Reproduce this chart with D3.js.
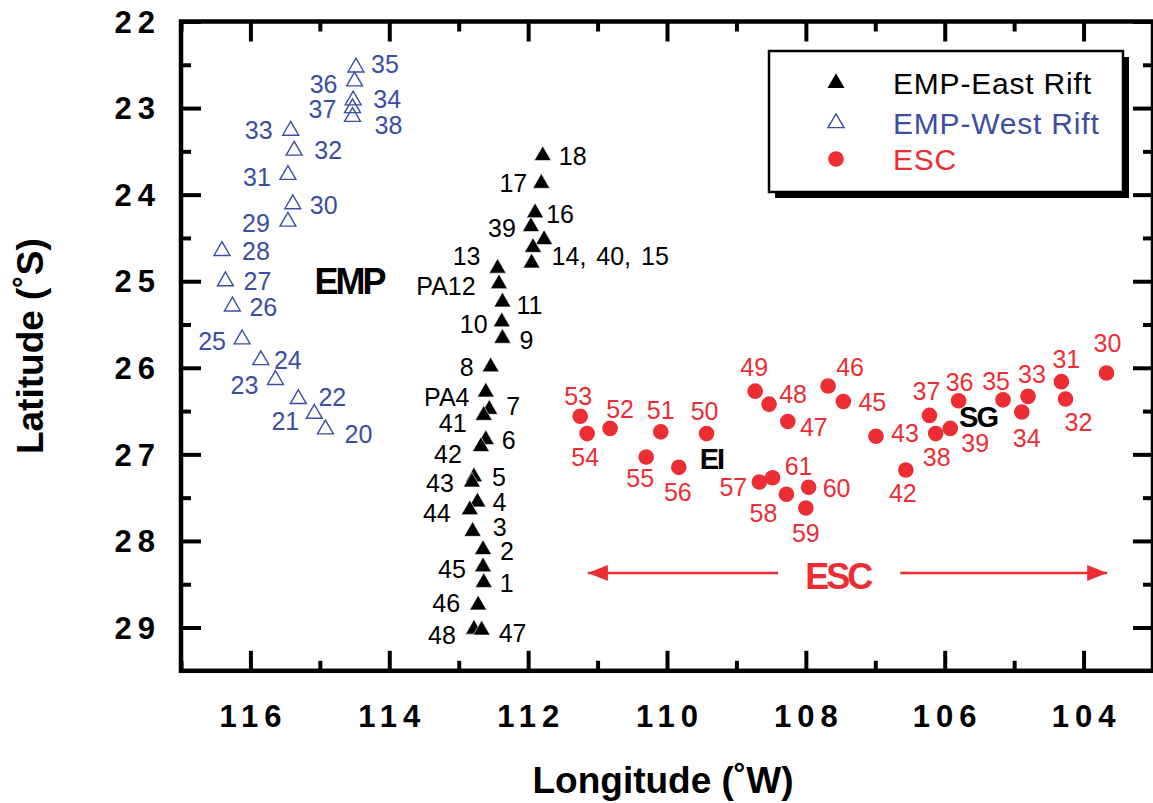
<!DOCTYPE html>
<html><head><meta charset="utf-8">
<script src="https://cdn.jsdelivr.net/npm/d3@7"></script>
<style>body{margin:0;background:#fff}svg{display:block}</style>
</head><body>
<svg id="c" width="1153" height="803"></svg>
<script>
// ---------- DATA ----------
const eastIds = ["18","17","16","39","15","40","14","13","PA12","11","10","9","8","PA4","7","41","6","42","5","43","4","44","3","2","45","1","46","48","47"];
const eastLabels = ["18","17","16","39","","","14, 40, 15","13","PA12","11","10","9","8","PA4","7","41","6","42","5","43","4","44","3","2","45","1","46","48","47"];
const eastLon = [111.79,111.81,111.90,111.96,111.77,111.93,111.95,112.44,112.42,112.37,112.38,112.37,112.54,112.61,112.56,112.64,112.61,112.68,112.78,112.81,112.73,112.84,112.80,112.65,112.65,112.64,112.72,112.78,112.67];
const eastLat = [23.55,23.87,24.21,24.37,24.52,24.61,24.79,24.85,25.03,25.24,25.47,25.66,25.99,26.28,26.48,26.55,26.83,26.91,27.26,27.32,27.55,27.64,27.89,28.10,28.30,28.48,28.74,29.02,29.03];

const westIds = ["35","36","34","37","38","33","32","31","30","29","28","27","26","25","24","23","22","21","20"];
const westLon = [114.48,114.50,114.52,114.53,114.53,115.42,115.37,115.46,115.39,115.46,116.41,116.36,116.26,116.12,115.85,115.64,115.31,115.08,114.92];
const westLat = [22.53,22.69,22.91,23.00,23.10,23.26,23.49,23.77,24.11,24.31,24.65,25.00,25.29,25.67,25.91,26.14,26.36,26.53,26.71];

const escIds = ["53","54","52","51","50","55","56","49","48","47","46","45","57","61","58","60","59","43","42","37","38","39","36","35","33","34","31","32","30"];
const escLon = [111.25,111.15,110.82,110.09,109.43,110.30,109.83,108.73,108.53,108.26,107.68,107.46,108.67,108.48,108.28,107.96,108.00,106.99,106.56,106.22,106.13,105.92,105.80,105.16,104.80,104.89,104.32,104.26,103.67];
const escLat = [26.56,26.76,26.70,26.74,26.76,27.03,27.15,26.27,26.42,26.62,26.21,26.39,27.32,27.27,27.46,27.38,27.62,26.79,27.18,26.55,26.76,26.70,26.38,26.37,26.33,26.51,26.16,26.36,26.06];

const xMajorTicks = [116,114,112,110,108,106,104];
const xMinorTicks = [117,115,113,111,109,107,105,103];
const yMajorTicks = [22,23,24,25,26,27,28,29];
const yMinorTicks = [22.5,23.5,24.5,25.5,26.5,27.5,28.5];

const placeNames = ["EMP","EI","SG"];
const placeLon = [114.58,109.36,105.52];
const placeLat = [25.00,27.05,26.56];

const escArrowLon = [111.14,108.40,106.64,103.66]; // left tip, left tail, right tail, right tip
const escArrowLat = 28.37;
const escTextLon = 107.54, escTextLat = 28.41;

const seriesNames = ["EMP-East Rift","EMP-West Rift","ESC"];

// ---------- LAYOUT (label offsets in px) ----------
const eastOff = [[30,0],[-28,0],[25,1],[-29,1],[0,0],[0,0],[20,-7],[-31,-12],[-53,2],[27,3],[-28,2],[24,2],[-24,0],[-39,5],[24,-3],[-31,8],[23,0],[-33,7],[25,0],[-32,1],[22,0],[-33,3],[27,-4],[24,1],[-31,2],[23,1],[-32,-2],[-32,6],[31,3]];
const westOff = [[29,-3],[-31,3],[34,-1],[-30,1],[36,8],[-32,-1],[34,0],[-31,2],[31,1],[-32,2],[34,0],[32,0],[31,1],[-30,2],[27,0],[-31,5],[34,-2],[-29,7],[33,5]];
const escOff = [[-2,-20],[-2,23],[10,-19],[0,-22],[-2,-23],[-6,21],[-1,25],[-1,-24],[24,-10],[26,6],[22,-19],[29,0],[-26,5],[26,-12],[-23,19],[28,1],[0,25],[29,-3],[-3,23],[-3,-24],[1,23],[25,15],[1,-19],[-7,-19],[4,-22],[5,26],[5,-23],[13,23],[1,-30]];

const BLUE = "#3b4ea2", RED = "#ec2d33", BLACK = "#000";
const FONT = "'Liberation Sans', Arial, Helvetica, sans-serif";

const svg = d3.select("#c");
const x = d3.scaleLinear().domain([117,103]).range([181,1153]);
const y = d3.scaleLinear().domain([22,29.5]).range([21.5,670.8]);

// ---------- AXES ----------
const axG = svg.append("g");
function styleAxis(g, w){ g.select(".domain").remove(); g.selectAll("line").attr("stroke","#000").attr("stroke-width",w); g.selectAll("text").remove(); }
axG.append("g").attr("transform",`translate(0,${y(29.5)})`).call(d3.axisBottom(x).tickValues(xMajorTicks).tickSize(-20)).call(g=>styleAxis(g,4));
axG.append("g").attr("transform",`translate(0,${y(29.5)})`).call(d3.axisBottom(x).tickValues(xMinorTicks).tickSize(-10)).call(g=>styleAxis(g,4));
axG.append("g").attr("transform",`translate(0,${y(22)})`).call(d3.axisTop(x).tickValues(xMajorTicks).tickSize(-20)).call(g=>styleAxis(g,4));
axG.append("g").attr("transform",`translate(0,${y(22)})`).call(d3.axisTop(x).tickValues(xMinorTicks).tickSize(-10)).call(g=>styleAxis(g,4));
axG.append("g").attr("transform",`translate(${x(117)},0)`).call(d3.axisLeft(y).tickValues(yMajorTicks).tickSize(-20)).call(g=>styleAxis(g,4));
axG.append("g").attr("transform",`translate(${x(117)},0)`).call(d3.axisLeft(y).tickValues(yMinorTicks).tickSize(-10)).call(g=>styleAxis(g,4));
axG.append("g").attr("transform",`translate(${x(103)},0)`).call(d3.axisRight(y).tickValues(yMajorTicks).tickSize(-20)).call(g=>styleAxis(g,4));
axG.append("g").attr("transform",`translate(${x(103)},0)`).call(d3.axisRight(y).tickValues(yMinorTicks).tickSize(-10)).call(g=>styleAxis(g,4));

svg.append("rect").attr("x",x(117)).attr("y",y(22)).attr("width",x(103)-x(117)).attr("height",y(29.5)-y(22))
  .attr("fill","none").attr("stroke","#000").attr("stroke-width",4.5);

// tick labels
svg.append("g").selectAll("text").data(xMajorTicks).join("text")
  .attr("x",d=>x(d)+3).attr("y",727).attr("text-anchor","middle")
  .style("font-family",FONT).style("font-weight","bold").style("font-size","31px").style("letter-spacing","6px")
  .text(d=>d);
svg.append("g").selectAll("text").data(yMajorTicks).join("text")
  .attr("x",161).attr("y",d=>y(d)).attr("dy","0.36em").attr("text-anchor","end")
  .style("font-family",FONT).style("font-weight","bold").style("font-size","31px").style("letter-spacing","6px")
  .text(d=>d);

// axis titles
svg.append("text").attr("x",663).attr("y",793).attr("text-anchor","middle")
  .style("font-family",FONT).style("font-weight","bold").style("font-size","37px").text("Longitude (˚W)");
svg.append("text").attr("transform",`translate(43,${(y(22)+y(29.5))/2}) rotate(-90)`).attr("text-anchor","middle")
  .style("font-family",FONT).style("font-weight","bold").style("font-size","37px").text("Latitude (˚S)");

// ---------- MARKS ----------
const triFill = d3.symbol().type(d3.symbolTriangle).size(125);
const triOpen = d3.symbol().type(d3.symbolTriangle).size(110);
const labelStyle = s => s.style("font-family",FONT).style("font-size","25px");

const westG = svg.append("g");
westG.selectAll("path").data(westIds).join("path")
  .attr("d",triOpen).attr("transform",(d,i)=>`translate(${x(westLon[i])},${y(westLat[i])})`)
  .attr("fill","none").attr("stroke",BLUE).attr("stroke-width",1.4);
westG.selectAll("text").data(westIds).join("text")
  .attr("x",(d,i)=>x(westLon[i])+westOff[i][0]).attr("y",(d,i)=>y(westLat[i])+westOff[i][1])
  .attr("dy","0.36em").attr("text-anchor","middle").attr("fill",BLUE).call(labelStyle).text(d=>d);

const eastG = svg.append("g");
eastG.selectAll("path").data(eastIds).join("path")
  .attr("d",triFill).attr("transform",(d,i)=>`translate(${x(eastLon[i])},${y(eastLat[i])})`)
  .attr("fill",BLACK).attr("stroke","#fff").attr("stroke-width",0.6);
eastG.selectAll("text").data(eastLabels).join("text")
  .attr("x",(d,i)=>x(eastLon[i])+eastOff[i][0]).attr("y",(d,i)=>y(eastLat[i])+eastOff[i][1])
  .attr("dy","0.36em").attr("text-anchor",d=>d.indexOf(",")>=0?"start":"middle").attr("fill",BLACK)
  .call(labelStyle).style("word-spacing",d=>d.indexOf(",")>=0?"3px":null).text(d=>d);

const escG = svg.append("g");
escG.selectAll("circle").data(escIds).join("circle")
  .attr("cx",(d,i)=>x(escLon[i])).attr("cy",(d,i)=>y(escLat[i])).attr("r",7.8).attr("fill",RED);
escG.selectAll("text").data(escIds).join("text")
  .attr("x",(d,i)=>x(escLon[i])+escOff[i][0]).attr("y",(d,i)=>y(escLat[i])+escOff[i][1])
  .attr("dy","0.36em").attr("text-anchor","middle").attr("fill",RED).call(labelStyle).text(d=>d);

// place names
svg.append("g").selectAll("text").data(placeNames).join("text")
  .attr("x",(d,i)=>x(placeLon[i])).attr("y",(d,i)=>y(placeLat[i])).attr("dy","0.36em").attr("text-anchor","middle")
  .style("font-family",FONT).style("font-weight","bold").style("font-size",(d,i)=>i===0?"36px":"29px")
  .style("letter-spacing",(d,i)=>i===0?"-3px":"-2px").attr("fill",BLACK).text(d=>d);

// ESC arrows
const defs = svg.append("defs");
defs.append("marker").attr("id","ah").attr("viewBox","0 0 20 16").attr("refX",20).attr("refY",8)
  .attr("markerWidth",20).attr("markerHeight",16).attr("markerUnits","userSpaceOnUse").attr("orient","auto")
  .append("path").attr("d","M0,0 L20,8 L0,16 Z").attr("fill",RED);
svg.append("line").attr("x1",x(escArrowLon[1])).attr("x2",x(escArrowLon[0])).attr("y1",y(escArrowLat)).attr("y2",y(escArrowLat))
  .attr("stroke",RED).attr("stroke-width",2.5).attr("marker-end","url(#ah)");
svg.append("line").attr("x1",x(escArrowLon[2])).attr("x2",x(escArrowLon[3])).attr("y1",y(escArrowLat)).attr("y2",y(escArrowLat))
  .attr("stroke",RED).attr("stroke-width",2.5).attr("marker-end","url(#ah)");
svg.append("text").attr("x",x(escTextLon)).attr("y",y(escTextLat)).attr("dy","0.36em").attr("text-anchor","middle")
  .style("font-family",FONT).style("font-weight","bold").style("font-size","36px").style("letter-spacing","-3px")
  .attr("fill",RED).text("ESC");

// ---------- LEGEND ----------
const lg = svg.append("g").attr("transform","translate(769,51)");
lg.append("rect").attr("x",6).attr("y",6).attr("width",354).attr("height",141).attr("fill","#000");
lg.append("rect").attr("x",0).attr("y",0).attr("width",354).attr("height",141).attr("fill","#fff").attr("stroke","#000").attr("stroke-width",2.5);
const lgColors = [BLACK, BLUE, RED];
const lgY = [32,72,108];
seriesNames.forEach((n,i)=>{
  if(i===0) lg.append("path").attr("d",triFill).attr("transform",`translate(67,${lgY[i]})`).attr("fill",BLACK);
  if(i===1) lg.append("path").attr("d",triOpen).attr("transform",`translate(67,${lgY[i]})`).attr("fill","none").attr("stroke",BLUE).attr("stroke-width",1.4);
  if(i===2) lg.append("circle").attr("cx",67).attr("cy",lgY[i]).attr("r",7.8).attr("fill",RED);
  lg.append("text").attr("x",124).attr("y",lgY[i]).attr("dy","0.36em").attr("fill",lgColors[i])
    .style("font-family",FONT).style("font-size","30px").style("letter-spacing","0.8px").text(n);
});
</script>
</body></html>
